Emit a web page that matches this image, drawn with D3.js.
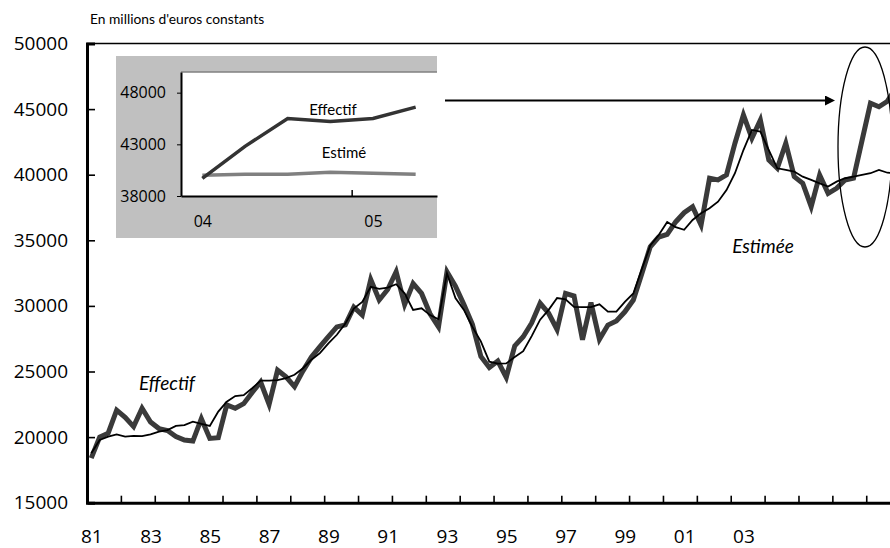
<!DOCTYPE html>
<html>
<head>
<meta charset="utf-8">
<script src="https://cdn.jsdelivr.net/npm/d3@7/dist/d3.min.js"></script>
<style>
  body{margin:0;background:#fff;}
  svg{display:block;}
</style>
</head>
<body>
<script>
// quarterly series, millions d'euros constants
var effectif = [18400,20000,20300,22050,21500,20800,22200,21150,20650,20500,20050,19780,
  19700,21400,19900,19950,22450,22200,22550,23400,24200,22500,25100,24600,
  23850,25050,26100,26900,27650,28400,28550,29900,29300,32000,30450,31250,
  32600,30100,31700,30950,29400,28400,32600,31500,30100,28600,26150,25300,
  25800,24550,26950,27650,28700,30200,29440,28200,30950,30750,27420,30250,
  27450,28540,28850,29550,30450,32450,34500,35250,35450,36400,37100,37560,
  36170,39730,39600,39980,42400,44550,42780,44170,41120,40490,42400,39850,
  39350,37560,39980,38580,38960,39600,39730,42600,45450,45180,45600,46600];
var estimee = [18770,19780,20030,20210,20030,20100,20070,20210,20410,20540,20850,20920,
  21170,21000,20850,21940,22700,23130,23200,23720,24300,24300,24350,24500,
  24750,25250,25900,26400,27150,27800,28650,29800,30300,31450,31300,31400,
  31650,30960,29690,29820,29300,28980,32480,30600,29690,28400,27300,25750,
  25600,25620,26100,26550,27700,28950,29700,30600,30500,29920,29900,29900,
  30120,29560,29560,30300,30950,32800,34600,35400,36400,36000,35800,36550,
  37060,37440,37940,38830,40110,41880,43410,43280,41880,40490,40360,40240,
  39850,39600,39340,39100,39470,39730,39850,39980,40110,40360,40150,40100];
var xLabels = ['81','83','85','87','89','91','93','95','97','99','01','03'];
var yTicks = [15000,20000,25000,30000,35000,40000,45000,50000];

// zoom on 2004-2005
var insetEffectif = [39700,42800,45500,45200,45500,46600];
var insetEstime = [40000,40100,40100,40300,40200,40100];
var insetXLabels = ['04','05'];
var insetYTicks = [38000,43000,48000];

var option = {
  width: 890, height: 548,
  left: 87, top: 43.5, bottom: 502.7,
  step: 8.47,
  font: "'Open Sans', sans-serif",
  textFont: "Lato, 'Open Sans', sans-serif"
};

var svg = d3.select("body").append("svg")
  .attr("width", option.width)
  .attr("height", option.height);

function mainScales() {
  var n = effectif.length;
  return {
    x: d3.scaleLinear().domain([-0.5, n - 0.5]).range([option.left, option.left + n * option.step]),
    y: d3.scaleLinear().domain([15000, 50000]).range([option.bottom, option.top])
  };
}

function drawMain() {
  var s = mainScales(), x = s.x, y = s.y;
  var n = effectif.length;

  // frame top line
  svg.append("line")
    .attr("x1", option.left).attr("x2", x(n - 0.5))
    .attr("y1", option.top).attr("y2", option.top)
    .attr("stroke", "#000").attr("stroke-width", 1.6);

  // y axis
  var gy = svg.append("g")
    .attr("transform", "translate(" + option.left + ",0)")
    .call(d3.axisLeft(y).tickValues(yTicks).tickSize(-8).tickPadding(19).tickFormat(d3.format("d")));
  gy.select(".domain").attr("stroke-width", 3);
  gy.selectAll(".tick line").attr("stroke-width", 1.6);
  gy.selectAll("text").attr("font-family", option.font).attr("font-size", 19).attr("fill", "#000");

  // x axis, ticks every year
  var gx = svg.append("g")
    .attr("transform", "translate(0," + option.bottom + ")")
    .call(d3.axisBottom(x).tickValues(d3.range(3.5, n, 4)).tickSize(-7).tickSizeOuter(0).tickFormat(""));
  gx.select(".domain").attr("stroke-width", 3);
  gx.selectAll(".tick line").attr("stroke-width", 1.6);

  // year labels
  var gl = svg.append("g")
    .attr("transform", "translate(0," + option.bottom + ")")
    .call(d3.axisBottom(x).tickValues(d3.range(0, xLabels.length * 7, 7))
      .tickSize(0).tickPadding(27).tickFormat(function(d, i) { return xLabels[i]; }));
  gl.select(".domain").remove();
  gl.selectAll("text").attr("font-family", option.font).attr("font-size", 19).attr("fill", "#000");

  var line = d3.line().x(function(d, i) { return x(i); }).y(function(d) { return y(d); });

  svg.append("path").datum(effectif)
    .attr("d", line).attr("fill", "none")
    .attr("stroke", "#3a3a3a").attr("stroke-width", 5).attr("stroke-linejoin", "miter");

  svg.append("path").datum(estimee)
    .attr("d", line).attr("fill", "none")
    .attr("stroke", "#000").attr("stroke-width", 1.8);

  // labels
  svg.append("text").text("En millions d'euros constants")
    .attr("x", 90).attr("y", 24)
    .attr("font-family", option.textFont).attr("font-size", 13.8).attr("fill", "#000");
  svg.append("text").text("Effectif")
    .attr("x", 167).attr("y", 390).attr("text-anchor", "middle")
    .attr("font-family", option.textFont).attr("font-style", "italic").attr("font-size", 19);
  svg.append("text").text("Estimée")
    .attr("x", 763).attr("y", 253).attr("text-anchor", "middle")
    .attr("font-family", option.textFont).attr("font-style", "italic").attr("font-size", 19);

  // ellipse around 2004-2005 and arrow
  svg.append("ellipse")
    .attr("cx", 865).attr("cy", 147).attr("rx", 27).attr("ry", 100)
    .attr("fill", "none").attr("stroke", "#000").attr("stroke-width", 1.3);

  svg.append("defs").append("marker")
    .attr("id", "arrow").attr("viewBox", "0 0 10 10")
    .attr("refX", 0).attr("refY", 5)
    .attr("markerWidth", 6).attr("markerHeight", 5).attr("markerUnits", "strokeWidth")
    .attr("orient", "auto")
    .append("path").attr("d", "M0,0 L10,5 L0,10 Z").attr("fill", "#000");

  svg.append("line")
    .attr("x1", 445).attr("x2", 825).attr("y1", 100.5).attr("y2", 100.5)
    .attr("stroke", "#000").attr("stroke-width", 2)
    .attr("marker-end", "url(#arrow)");
}

function drawInset() {
  var box = {x: 116, y: 56, w: 321, h: 182};
  var plot = {left: 181, right: 437, top: 72, bottom: 196};
  var n = insetEffectif.length;

  var g = svg.append("g");
  g.append("rect")
    .attr("x", box.x).attr("y", box.y).attr("width", box.w).attr("height", box.h)
    .attr("fill", "#c0c0c0");
  g.append("rect")
    .attr("x", plot.left).attr("y", plot.top)
    .attr("width", plot.right - plot.left).attr("height", plot.bottom - plot.top)
    .attr("fill", "#fff");
  g.append("line")
    .attr("x1", plot.left).attr("x2", plot.right).attr("y1", plot.top).attr("y2", plot.top)
    .attr("stroke", "#808080").attr("stroke-width", 1.5);

  var x = d3.scaleLinear().domain([-0.5, n - 0.5]).range([plot.left, plot.right]);
  var y = d3.scaleLinear().domain([38000, 50000]).range([plot.bottom, plot.top]);

  var gy = g.append("g")
    .attr("transform", "translate(" + plot.left + ",0)")
    .call(d3.axisLeft(y).tickValues(insetYTicks).tickSize(4).tickPadding(11).tickSizeOuter(0).tickFormat(d3.format("d")));
  gy.select(".domain").attr("stroke-width", 2);
  gy.selectAll("text").attr("font-family", option.font).attr("font-size", 16).attr("fill", "#000");

  var gx = g.append("g")
    .attr("transform", "translate(0," + plot.bottom + ")")
    .call(d3.axisBottom(x).tickValues(d3.range(3.5, n, 4)).tickSize(-6).tickSizeOuter(0).tickFormat(""));
  gx.select(".domain").attr("stroke-width", 2);
  gx.selectAll(".tick line").attr("stroke-width", 1.5);

  var gl = g.append("g")
    .attr("transform", "translate(0," + plot.bottom + ")")
    .call(d3.axisBottom(x).tickValues(d3.range(0, n, 4)).tickSize(0).tickPadding(20)
      .tickFormat(function(d, i) { return insetXLabels[i]; }));
  gl.select(".domain").remove();
  gl.selectAll("text").attr("font-family", option.font).attr("font-size", 16).attr("fill", "#000");

  var line = d3.line().x(function(d, i) { return x(i); }).y(function(d) { return y(d); });
  g.append("path").datum(insetEstime).attr("d", line)
    .attr("fill", "none").attr("stroke", "#808080").attr("stroke-width", 3.5);
  g.append("path").datum(insetEffectif).attr("d", line)
    .attr("fill", "none").attr("stroke", "#333").attr("stroke-width", 3.5);

  g.append("text").text("Effectif")
    .attr("x", 333).attr("y", 115).attr("text-anchor", "middle")
    .attr("font-family", option.textFont).attr("font-size", 15);
  g.append("text").text("Estimé")
    .attr("x", 344).attr("y", 158).attr("text-anchor", "middle")
    .attr("font-family", option.textFont).attr("font-style", "normal").attr("font-size", 15);
}

drawMain();
drawInset();
</script>
</body>
</html>
